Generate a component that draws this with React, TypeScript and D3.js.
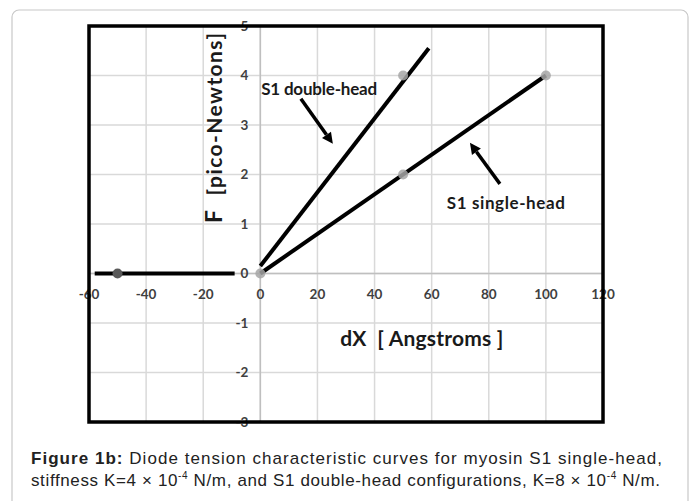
import React from "react";
import * as d3 from "d3";

const xTicks = [-60, -40, -20, 0, 20, 40, 60, 80, 100, 120];
const yTicks = [-3, -2, -1, 0, 1, 2, 3, 4, 5];
const flatLine = [[-58, 0], [-9, 0]];
const doubleHeadLine = [[0, 0.15], [59, 4.55]];
const singleHeadLine = [[0, 0], [100, 4]];
const lightPoints = [[0, 0], [50, 2], [50, 4], [100, 4]];
const darkPoints = [[-50, 0]];
const doubleArrow = [[14.2, 3.53], [25.4, 2.62]];
const singleArrow = [[83.9, 1.81], [73.4, 2.64]];
const doubleLabel = { text: "S1 double-head", x: 0.3, y: 3.72 };
const singleLabel = { text: "S1 single-head", x: 65.3, y: 1.43 };

const W = 694, H = 501;
const L = 89, R = 603, T = 26, B = 422;

export default function App() {
  const x = d3.scaleLinear().domain([-60, 120]).range([L, R]);
  const y = d3.scaleLinear().domain([-3, 5]).range([B, T]);
  const line = d3.line<number[]>().x(d => x(d[0])).y(d => y(d[1]));
  const chartFont = "Lato, 'Open Sans', sans-serif";

  const arrow = (pts: number[][], key: string) => {
    const [a, b] = pts;
    const x1 = x(a[0]), y1 = y(a[1]), x2 = x(b[0]), y2 = y(b[1]);
    const ang = Math.atan2(y2 - y1, x2 - x1);
    const hl = 11, hw = 5.5;
    const bx = x2 - hl * Math.cos(ang), by = y2 - hl * Math.sin(ang);
    const p1 = [bx + hw * Math.sin(ang), by - hw * Math.cos(ang)];
    const p2 = [bx - hw * Math.sin(ang), by + hw * Math.cos(ang)];
    return (
      <g key={key}>
        <line x1={x1} y1={y1} x2={bx} y2={by} stroke="#000" strokeWidth={3.5} />
        <polygon points={`${x2},${y2} ${p1[0]},${p1[1]} ${p2[0]},${p2[1]}`} fill="#000" />
      </g>
    );
  };

  return (
    <svg width={W} height={H} style={{ position: "absolute", left: 0, top: 0, background: "#fff" }}>
      <rect x={12} y={10} width={676} height={520} rx={7} fill="#fff" stroke="#c8c8c8" strokeWidth={1.2} />
      {/* gridlines */}
      {xTicks.map(t => (
        <line key={"gx" + t} x1={x(t)} x2={x(t)} y1={T} y2={B} stroke="#d9d9d9" strokeWidth={1.5} />
      ))}
      {yTicks.map(t => (
        <line key={"gy" + t} x1={L} x2={R} y1={y(t)} y2={y(t)} stroke="#d9d9d9" strokeWidth={1.5} />
      ))}
      {/* zero axes */}
      <line x1={L} x2={R} y1={y(0)} y2={y(0)} stroke="#bfbfbf" strokeWidth={1.5} />
      <line x1={x(0)} x2={x(0)} y1={T} y2={B} stroke="#bfbfbf" strokeWidth={1.5} />
      {/* tick labels */}
      {xTicks.map(t => (
        <text key={"tx" + t} x={x(t)} y={y(0) + 25} textAnchor="middle" fontFamily={chartFont}
          fontWeight={700} fontSize={13.5} fill="#404040">{t}</text>
      ))}
      {yTicks.map(t => (
        <text key={"ty" + t} x={x(0) - 12} y={y(t) + 4.5} textAnchor="end" fontFamily={chartFont}
          fontWeight={700} fontSize={13.5} fill="#404040">{t}</text>
      ))}
      {/* axis titles */}
      <text x={x(28)} y={y(-1.31) + 8} fontFamily={chartFont} fontWeight={700} fontSize={21} fill="#1a1a1a"
        textLength={163} lengthAdjust="spacing" style={{ whiteSpace: "pre" }}>{"dX  [ Angstroms ]"}</text>
      <text transform={`translate(${222},${223}) rotate(-90)`} fontFamily={chartFont} fontWeight={700}
        fill="#1a1a1a" textLength={190} lengthAdjust="spacing" style={{ whiteSpace: "pre" }}>
        <tspan fontSize={23}>F</tspan>
        <tspan fontSize={21}>{"  [pico-Newtons]"}</tspan>
      </text>
      {/* data lines */}
      <path d={line(flatLine) || ""} stroke="#000" strokeWidth={4} fill="none" />
      <path d={line(doubleHeadLine) || ""} stroke="#000" strokeWidth={4} fill="none" />
      <path d={line(singleHeadLine) || ""} stroke="#000" strokeWidth={4} fill="none" />
      {lightPoints.map((p, i) => (
        <circle key={"lp" + i} cx={x(p[0])} cy={y(p[1])} r={5} fill="#a6a6a6" opacity={0.85} />
      ))}
      {darkPoints.map((p, i) => (
        <circle key={"dp" + i} cx={x(p[0])} cy={y(p[1])} r={5} fill="#595959" />
      ))}
      {/* annotations */}
      {arrow(doubleArrow, "a1")}
      {arrow(singleArrow, "a2")}
      <text x={x(doubleLabel.x)} y={y(doubleLabel.y) + 6} fontFamily={chartFont} fontWeight={700}
        fontSize={17} fill="#1a1a1a" textLength={116} lengthAdjust="spacing">{doubleLabel.text}</text>
      <text x={x(singleLabel.x)} y={y(singleLabel.y) + 6} fontFamily={chartFont} fontWeight={700}
        fontSize={17} fill="#1a1a1a" textLength={118} lengthAdjust="spacing">{singleLabel.text}</text>
      {/* frame */}
      <rect x={L} y={T} width={R - L} height={B - T} fill="none" stroke="#000" strokeWidth={3.5} />
      {/* caption */}
      <text x={31} y={464} fontFamily="'Liberation Sans', Arial, sans-serif" fontSize={17} fill="#222"
        textLength={631} lengthAdjust="spacing">
        <tspan fontWeight={700}>Figure 1b:</tspan>
        <tspan> Diode tension characteristic curves for myosin S1 single-head,</tspan>
      </text>
      <text x={31} y={486} fontFamily="'Liberation Sans', Arial, sans-serif" fontSize={17} fill="#222"
        textLength={629} lengthAdjust="spacing">
        <tspan>stiffness K=4 × 10</tspan>
        <tspan fontSize={10} dy={-7}>-4</tspan>
        <tspan dy={7}> N/m, and S1 double-head configurations, K=8 × 10</tspan>
        <tspan fontSize={10} dy={-7}>-4</tspan>
        <tspan dy={7}> N/m.</tspan>
      </text>
    </svg>
  );
}
